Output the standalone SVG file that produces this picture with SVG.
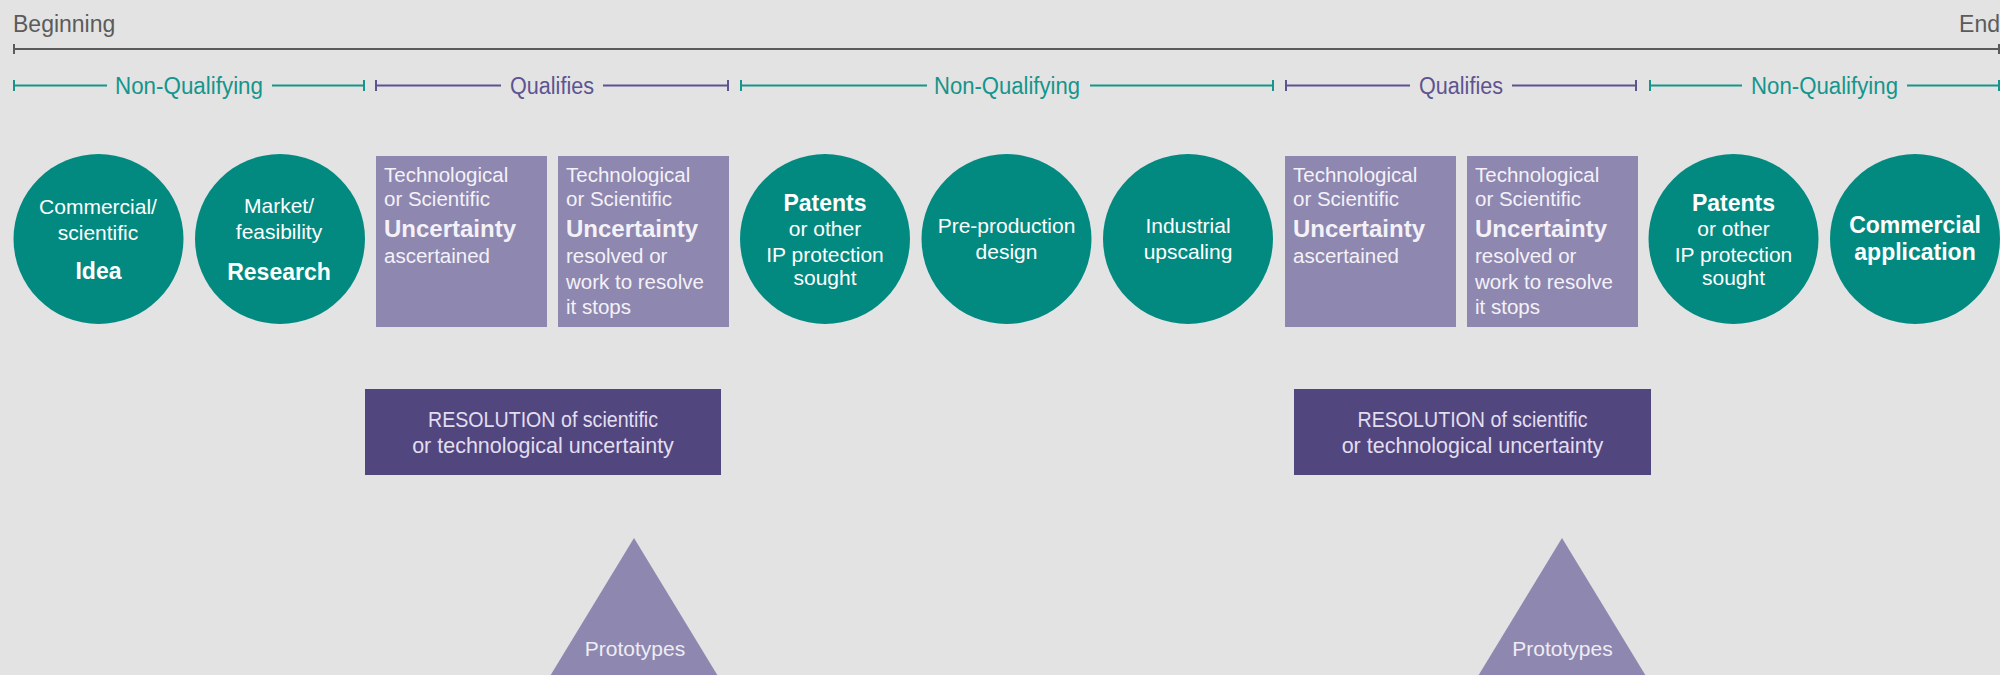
<svg xmlns="http://www.w3.org/2000/svg" width="2000" height="675" viewBox="0 0 2000 675">
<style>
text{font-family:"Liberation Sans",Arial,sans-serif}
.bg{fill:#e3e3e3}
.teal{fill:#028a81}
.lav{fill:#8e87b0}
.dark{fill:#52467f}
.tl{stroke:#5b5b5b;stroke-width:2;fill:none}
.nq{stroke:#15958b;stroke-width:2;fill:none}
.q{stroke:#5e5391;stroke-width:2;fill:none}
.lbl{font-size:23px;text-anchor:middle}
.nqt{fill:#15958b}
.qt{fill:#5e5391}
.ct{fill:#ffffff;font-size:21px;text-anchor:middle}
.cb{fill:#ffffff;font-size:23px;font-weight:bold;text-anchor:middle}
.bt{fill:#f4f2f8;font-size:20.5px}
.bb{fill:#f4f2f8;font-size:24px;font-weight:bold}
.rt{fill:#e2def0;font-size:21.5px;text-anchor:middle}
.pt{fill:#eeecf4;font-size:21px;text-anchor:middle}
</style>
<rect class="bg" x="0" y="0" width="2000" height="675"/>

<g id="timeline">
  <text x="13" y="32" font-size="23" fill="#5b5b5b">Beginning</text>
  <text x="2000" y="32" font-size="23" fill="#5b5b5b" text-anchor="end">End</text>
  <path class="tl" d="M14,49H1999M14,44V54M1999,44V54"/>
</g>

<g id="connectors">
  <path class="nq" d="M14,80V91M14,85.5H107M272,85.5H364M364,80V91"/>
  <path class="q" d="M376,80V91M376,85.5H501M603,85.5H728M728,80V91"/>
  <path class="nq" d="M741,80V91M741,85.5H927M1090,85.5H1273M1273,80V91"/>
  <path class="q" d="M1286,80V91M1286,85.5H1410M1512,85.5H1636M1636,80V91"/>
  <path class="nq" d="M1650,80V91M1650,85.5H1742M1907,85.5H1999M1999,80V91"/>
  <text class="lbl nqt" x="189" y="93.5" textLength="148" lengthAdjust="spacingAndGlyphs">Non-Qualifying</text>
  <text class="lbl qt" x="552" y="93.5" textLength="84" lengthAdjust="spacingAndGlyphs">Qualifies</text>
  <text class="lbl nqt" x="1007" y="93.5" textLength="146" lengthAdjust="spacingAndGlyphs">Non-Qualifying</text>
  <text class="lbl qt" x="1461" y="93.5" textLength="84" lengthAdjust="spacingAndGlyphs">Qualifies</text>
  <text class="lbl nqt" x="1824.5" y="93.5" textLength="147" lengthAdjust="spacingAndGlyphs">Non-Qualifying</text>
</g>

<g id="idea">
  <circle class="teal" cx="98.5" cy="239" r="85"/>
  <text class="ct" x="98" y="214">Commercial/</text>
  <text class="ct" x="98" y="240">scientific</text>
  <text class="cb" x="98.5" y="279">Idea</text>
</g>
<g id="research">
  <circle class="teal" cx="280" cy="239" r="85"/>
  <text class="ct" x="279" y="213.3">Market/</text>
  <text class="ct" x="279" y="239.3">feasibility</text>
  <text class="cb" x="279" y="280">Research</text>
</g>
<g id="uncertainty1">
  <rect class="lav" x="376" y="156" width="171" height="171"/>
  <text class="bt" x="384" y="182.3">Technological</text>
  <text class="bt" x="384" y="206">or Scientific</text>
  <text class="bb" x="384" y="237.3">Uncertainty</text>
  <text class="bt" x="384" y="263.3">ascertained</text>
</g>
<g id="resolved1">
  <rect class="lav" x="558" y="156" width="171" height="171"/>
  <text class="bt" x="566" y="182.3">Technological</text>
  <text class="bt" x="566" y="206">or Scientific</text>
  <text class="bb" x="566" y="237.3">Uncertainty</text>
  <text class="bt" x="566" y="263.3">resolved or</text>
  <text class="bt" x="566" y="289.3">work to resolve</text>
  <text class="bt" x="566" y="314">it stops</text>
</g>
<g id="patents1">
  <circle class="teal" cx="825" cy="239" r="85"/>
  <text class="cb" x="825" y="210.7" font-size="24">Patents</text>
  <text class="ct" x="825" y="236">or other</text>
  <text class="ct" x="825" y="261.7">IP protection</text>
  <text class="ct" x="825" y="285">sought</text>
</g>
<g id="preproduction">
  <circle class="teal" cx="1006.5" cy="239" r="85"/>
  <text class="ct" x="1006.5" y="233.3">Pre-production</text>
  <text class="ct" x="1006.5" y="259.3">design</text>
</g>
<g id="upscaling">
  <circle class="teal" cx="1188" cy="239" r="85"/>
  <text class="ct" x="1188" y="233.3">Industrial</text>
  <text class="ct" x="1188" y="259.3">upscaling</text>
</g>
<g id="uncertainty2">
  <rect class="lav" x="1285" y="156" width="171" height="171"/>
  <text class="bt" x="1293" y="182.3">Technological</text>
  <text class="bt" x="1293" y="206">or Scientific</text>
  <text class="bb" x="1293" y="237.3">Uncertainty</text>
  <text class="bt" x="1293" y="263.3">ascertained</text>
</g>
<g id="resolved2">
  <rect class="lav" x="1467" y="156" width="171" height="171"/>
  <text class="bt" x="1475" y="182.3">Technological</text>
  <text class="bt" x="1475" y="206">or Scientific</text>
  <text class="bb" x="1475" y="237.3">Uncertainty</text>
  <text class="bt" x="1475" y="263.3">resolved or</text>
  <text class="bt" x="1475" y="289.3">work to resolve</text>
  <text class="bt" x="1475" y="314">it stops</text>
</g>
<g id="patents2">
  <circle class="teal" cx="1733.5" cy="239" r="85"/>
  <text class="cb" x="1733.5" y="210.7" font-size="24">Patents</text>
  <text class="ct" x="1733.5" y="236">or other</text>
  <text class="ct" x="1733.5" y="261.7">IP protection</text>
  <text class="ct" x="1733.5" y="285">sought</text>
</g>
<g id="commercial">
  <circle class="teal" cx="1915" cy="239" r="85"/>
  <text class="cb" x="1915" y="233.3">Commercial</text>
  <text class="cb" x="1915" y="260">application</text>
</g>

<g id="resolution1">
  <rect class="dark" x="365" y="389" width="356" height="86"/>
  <text class="rt" x="543" y="426.7" textLength="230" lengthAdjust="spacingAndGlyphs">RESOLUTION of scientific</text>
  <text class="rt" x="543" y="452.7">or technological uncertainty</text>
</g>
<g id="resolution2">
  <rect class="dark" x="1294" y="389" width="357" height="86"/>
  <text class="rt" x="1472.5" y="426.7" textLength="230" lengthAdjust="spacingAndGlyphs">RESOLUTION of scientific</text>
  <text class="rt" x="1472.5" y="452.7">or technological uncertainty</text>
</g>

<g id="prototypes1">
  <polygon class="lav" points="634,538 544,686 724,686"/>
  <text class="pt" x="635" y="656">Prototypes</text>
</g>
<g id="prototypes2">
  <polygon class="lav" points="1562,538 1472,686 1652,686"/>
  <text class="pt" x="1562.5" y="656">Prototypes</text>
</g>
</svg>
